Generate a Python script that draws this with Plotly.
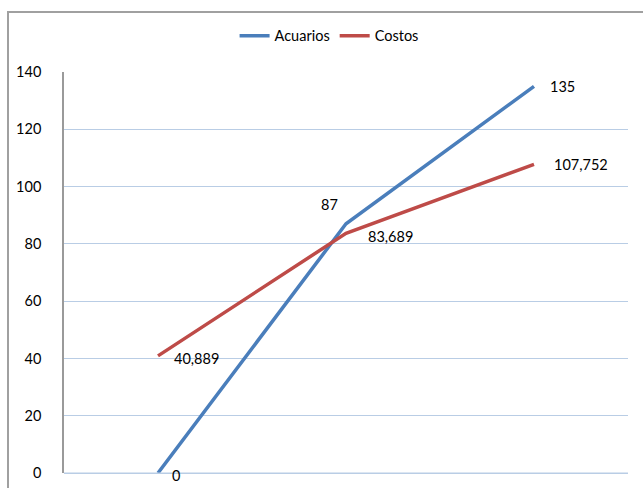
import plotly.graph_objects as go

categories = ["1", "2", "3"]
acuarios = [0, 87, 135]
costos = [40.889, 83.689, 107.752]
y_ticks = [0, 20, 40, 60, 80, 100, 120, 140]

FONT = "Lato"
FS = 14.5
BLUE = "#4A7EBB"
RED = "#BE4B48"
GRID = "#B9CDE5"

def fmt(v):
    if float(v).is_integer():
        return str(int(v))
    return f"{v:.3f}".replace(".", ",")

fig = go.Figure()
fig.add_trace(go.Scatter(x=categories, y=acuarios, mode="lines", name="Acuarios",
                         line=dict(color=BLUE, width=3.5)))
fig.add_trace(go.Scatter(x=categories, y=costos, mode="lines", name="Costos",
                         line=dict(color=RED, width=3.5)))

# outer chart border (cut off at right/bottom), drawn as an empty bordered box
fig.add_annotation(xref="paper", yref="paper", x=-0.101, y=1.152, xanchor="left", yanchor="top",
                   text="", showarrow=False, width=700, height=540,
                   bordercolor="#A0A0A0", borderwidth=2, borderpad=0)
# gridline at 0
fig.add_shape(type="line", xref="paper", yref="y", x0=0, x1=1, y0=0, y1=0,
              line=dict(color=GRID, width=1), layer="above")

# data labels
ac_pos = [dict(xanchor="left", yanchor="middle", xshift=12, yshift=-2),
          dict(xanchor="right", yanchor="middle", xshift=-6, yshift=19),
          dict(xanchor="left", yanchor="middle", xshift=14, yshift=0)]
co_pos = [dict(xanchor="left", yanchor="middle", xshift=14, yshift=-3),
          dict(xanchor="left", yanchor="middle", xshift=20, yshift=-3),
          dict(xanchor="left", yanchor="middle", xshift=18, yshift=0)]
for i, (v, p) in enumerate(zip(acuarios, ac_pos)):
    fig.add_annotation(x=i, y=v, text=fmt(v), showarrow=False,
                       font=dict(family=FONT, size=FS, color="#000"), **p)
for i, (v, p) in enumerate(zip(costos, co_pos)):
    fig.add_annotation(x=i, y=v, text=fmt(v), showarrow=False,
                       font=dict(family=FONT, size=FS, color="#000"), **p)

fig.update_layout(
    width=643, height=488,
    margin=dict(l=64, r=15, t=72, b=15),
    paper_bgcolor="white", plot_bgcolor="white",
    font=dict(family=FONT, size=FS, color="#000"),
    showlegend=True,
    legend=dict(orientation="h", x=0.47, xanchor="center", y=1.09, yanchor="middle"),
    xaxis=dict(type="category", range=[-0.5, 2.5], showticklabels=False, showgrid=False,
               zeroline=False, showline=False, automargin=False),
    yaxis=dict(range=[0, 140], tickvals=y_ticks, showgrid=True, gridcolor=GRID,
               zeroline=True, zerolinecolor=GRID, zerolinewidth=1,
               showline=True, linecolor="#9A9A9A", linewidth=1.5,
               ticks="", ticklabelstandoff=18, automargin=False),
)

fig.write_html("out.html")
